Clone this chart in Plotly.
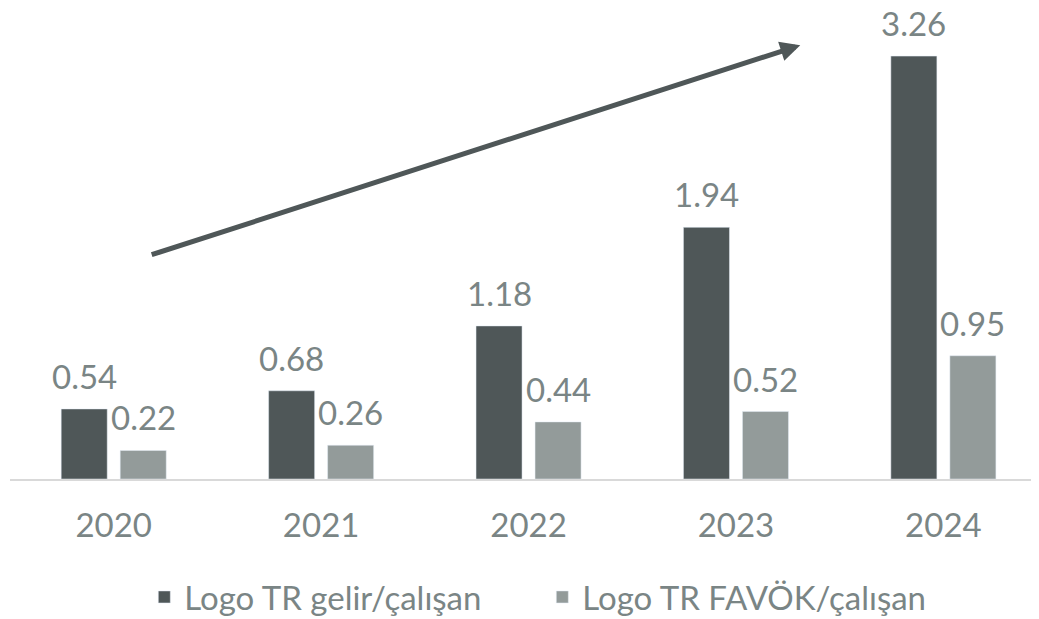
import plotly.graph_objects as go

years = ["2020", "2021", "2022", "2023", "2024"]
gelir = [0.54, 0.68, 1.18, 1.94, 3.26]
favok = [0.22, 0.26, 0.44, 0.52, 0.95]
series_names = ["Logo TR gelir/çalışan", "Logo TR FAVÖK/çalışan"]

DARK = "#4F5758"
LIGHT = "#939B9A"
TEXT = "#7A8585"
FONT = "Lato"
FS = 33

xs = list(range(len(years)))

fig = go.Figure()
fig.add_trace(go.Bar(x=xs, y=gelir, name=series_names[0], marker_color=DARK))
fig.add_trace(go.Bar(x=xs, y=favok, name=series_names[1], marker_color=LIGHT))

off = 0.142
for i, (a, b) in enumerate(zip(gelir, favok)):
    fig.add_annotation(x=i - off, y=a, text=f"{a:.2f}", showarrow=False,
                       yanchor="bottom", yshift=11,
                       font=dict(family=FONT, size=FS, color=TEXT))
    fig.add_annotation(x=i + off, y=b, text=f"{b:.2f}", showarrow=False,
                       yanchor="bottom", yshift=11,
                       font=dict(family=FONT, size=FS, color=TEXT))

# trend arrow
fig.add_annotation(x=3.31, y=3.344, ax=0.176, ay=1.725, xref="x", yref="y",
                   axref="x", ayref="y", text="", showarrow=True,
                   arrowhead=2, arrowsize=0.8, arrowwidth=5, arrowcolor=DARK)

fig.update_layout(
    width=1039, height=619,
    margin=dict(l=2, r=8, t=4, b=148, autoexpand=False),
    paper_bgcolor="white", plot_bgcolor="white",
    barmode="group", bargap=0.431, bargroupgap=0.22,
    font=dict(family=FONT, size=FS, color=TEXT),
    showlegend=True,
    legend=dict(orientation="h", x=0.5173, xanchor="center", y=-0.2527, yanchor="middle",
                font=dict(family=FONT, size=FS, color=TEXT), itemwidth=30,
                entrywidth=353, entrywidthmode="pixels"),
    xaxis=dict(range=[-0.5, 4.461], tickvals=xs, ticktext=years,
               showgrid=False, showline=True, linecolor="#D9D9D9", linewidth=2,
               ticks="", ticklabelstandoff=16,
               tickfont=dict(family=FONT, size=FS, color=TEXT)),
    yaxis=dict(range=[0, 3.6], visible=False),
)

fig.write_html("out.html")
